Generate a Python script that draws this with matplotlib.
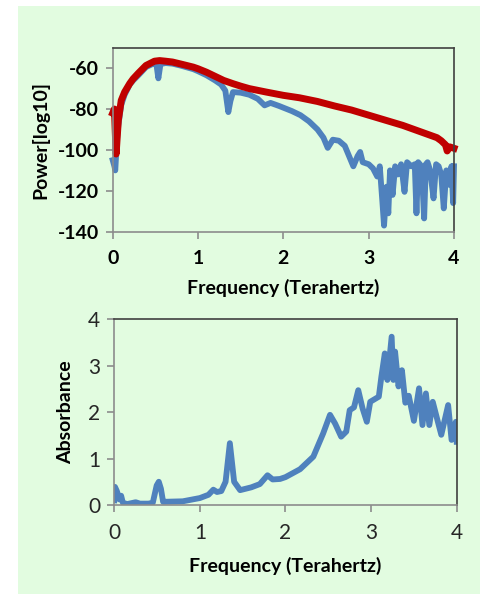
import matplotlib
matplotlib.use("Agg")
import matplotlib.pyplot as plt
from matplotlib.patches import Rectangle

plt.rcParams['font.family'] = ['Lato', 'DejaVu Sans']
plt.rcParams['axes.unicode_minus'] = False

bg = '#E2FCE0'
blue = '#4F81BD'
red = '#C00000'

# Power spectra
ref_f = [0.0, 0.02, 0.04, 0.066, 0.1, 0.14, 0.2, 0.24, 0.3, 0.39, 0.49, 0.55, 0.62,
         0.7, 0.8, 0.945, 1.0, 1.1, 1.2, 1.3, 1.41, 1.5, 1.6, 1.8, 2.0, 2.19, 2.4,
         2.5, 2.6, 2.8, 3.0, 3.2, 3.4, 3.5, 3.6, 3.7, 3.8, 3.85, 3.9, 3.92, 3.95, 4.0]
ref_p = [-82, -80, -102, -85.5, -75.8, -71.7, -67.5, -65.2, -62.5, -58.7, -56.6, -56.3, -56.6,
         -57, -58, -59.5, -60.3, -62, -64, -66, -67.6, -68.8, -70, -71.7, -73.3, -74.5, -76.3,
         -77.4, -78.5, -80.5, -83, -85.5, -88, -89.5, -91, -92.5, -94, -95.5, -97.5, -100.5, -98.5, -99.2]

smp_f = [0.0, 0.02, 0.03, 0.05, 0.066, 0.1, 0.14, 0.2, 0.24, 0.3, 0.39, 0.49, 0.51, 0.535, 0.56,
         0.62, 0.7, 0.8, 0.945, 1.0, 1.1, 1.2, 1.27, 1.32, 1.355, 1.38, 1.41, 1.5, 1.6, 1.7,
         1.78, 1.85, 1.95, 2.1, 2.2, 2.3, 2.4, 2.47, 2.52, 2.58, 2.65, 2.72, 2.78, 2.82, 2.87,
         2.9, 2.93, 3.0, 3.05, 3.1, 3.13, 3.16, 3.18, 3.21, 3.23, 3.25, 3.28, 3.31, 3.34, 3.38,
         3.42, 3.45, 3.5, 3.54, 3.56, 3.58, 3.62, 3.65, 3.67, 3.69, 3.72, 3.76, 3.79, 3.82,
         3.85, 3.88, 3.91, 3.94, 3.97, 3.99, 4.0]
smp_p = [-105, -108, -110, -95, -88, -78, -73, -68, -66, -63.5, -59.5, -57.5, -57.5, -65, -58,
         -57.5, -57.8, -58.8, -60.5, -61.5, -63.5, -66, -68, -71, -81.5, -76, -71.7, -72, -73, -75,
         -78.2, -77, -78.5, -81, -83, -86, -90, -94, -99, -95, -95.5, -98, -104, -108, -103,
         -101, -106, -107, -109, -113, -108, -125, -137, -118, -131, -110, -122, -108, -112, -107,
         -120.5, -106, -108, -107, -131, -106, -108, -133.5, -107, -106, -110, -123.7, -107, -108,
         -112, -128.6, -110, -117, -108, -126, -108]

# Absorbance
abs_f = [0.0, 0.008, 0.03, 0.06, 0.08, 0.1, 0.15, 0.25, 0.3, 0.4, 0.45, 0.495, 0.52, 0.545,
         0.57, 0.6, 0.8, 1.0, 1.1, 1.157, 1.2, 1.25, 1.3, 1.35, 1.4, 1.47, 1.6, 1.7, 1.79,
         1.85, 1.936, 2.0, 2.17, 2.325, 2.44, 2.52, 2.58, 2.65, 2.71, 2.75, 2.8, 2.85, 2.9, 2.95,
         2.99, 3.09, 3.12, 3.16, 3.19, 3.24, 3.26, 3.28, 3.32, 3.36, 3.4, 3.44, 3.5, 3.56, 3.6,
         3.64, 3.68, 3.72, 3.78, 3.82, 3.9, 3.94, 3.99, 4.0]
abs_v = [0.1, 0.39, 0.3, 0.12, 0.2, 0.05, 0.02, 0.06, 0.03, 0.03, 0.05, 0.42, 0.5, 0.35,
         0.07, 0.07, 0.08, 0.15, 0.22, 0.33, 0.28, 0.3, 0.5, 1.33, 0.5, 0.32, 0.38, 0.45, 0.64,
         0.55, 0.56, 0.6, 0.77, 1.04, 1.54, 1.94, 1.75, 1.47, 1.58, 2.04, 2.1, 2.47, 2.08, 1.79,
         2.22, 2.33, 2.76, 3.26, 2.69, 3.62, 2.69, 3.3, 2.55, 2.9, 2.2, 2.35, 1.81, 2.51, 1.72,
         2.4, 1.72, 2.22, 1.79, 1.51, 2.15, 1.4, 1.79, 1.36]

xticks = [0, 1, 2, 3, 4]
pticks = [-140, -120, -100, -80, -60]
aticks = [0, 1, 2, 3, 4]

fig = plt.figure(figsize=(4.81, 5.94), dpi=100)
fig.patch.set_facecolor('white')
fig.patches.append(Rectangle((18 / 481, 0), 1, 588 / 594, transform=fig.transFigure,
                             facecolor=bg, edgecolor='none', zorder=-10))


def style(ax):
    ax.set_facecolor('none')
    for s in ['left', 'bottom']:
        ax.spines[s].set_color('#8C8C8C')
        ax.spines[s].set_linewidth(1.2)
    for s in ['top', 'right']:
        ax.spines[s].set_color('#404040')
        ax.spines[s].set_linewidth(1.2)
    ax.tick_params(direction='out', length=5, width=1.2, color='#8C8C8C')
    ax.tick_params(axis='x', pad=8)
    ax.tick_params(axis='y', pad=5)
    ax.set_xlim(0, 4)
    ax.set_xticks(xticks)


ax1 = fig.add_axes([0.2343, 0.6099, 0.7096, 0.3098])
style(ax1)
ax1.plot(smp_f, smp_p, color=blue, lw=4.2, solid_joinstyle='round', clip_on=False)
ax1.plot(ref_f, ref_p, color=red, lw=5.0, solid_joinstyle='round', clip_on=False)
ax1.set_ylim(-140, -50)
ax1.set_yticks(pticks)
for lab in ax1.get_xticklabels() + ax1.get_yticklabels():
    lab.set_fontweight('bold')
    lab.set_fontsize(14)
ax1.set_xlabel('Frequency (Terahertz)', fontsize=14, fontweight='bold', labelpad=9)
ax1.set_ylabel('Power[log10]', fontsize=14, fontweight='bold', labelpad=6)

ax2 = fig.add_axes([0.2376, 0.1498, 0.7119, 0.3131])
style(ax2)
ax2.plot(abs_f, abs_v, color=blue, lw=4.2, solid_joinstyle='round')
ax2.set_ylim(0, 4)
ax2.set_yticks(aticks)
ax2.tick_params(labelsize=15, labelcolor='#262626')
ax2.set_xlabel('Frequency (Terahertz)', fontsize=14, fontweight='bold', labelpad=10)
ax2.set_ylabel('Absorbance', fontsize=14, fontweight='bold', labelpad=10)

fig.savefig('out.png', dpi=100, facecolor=fig.get_facecolor())
